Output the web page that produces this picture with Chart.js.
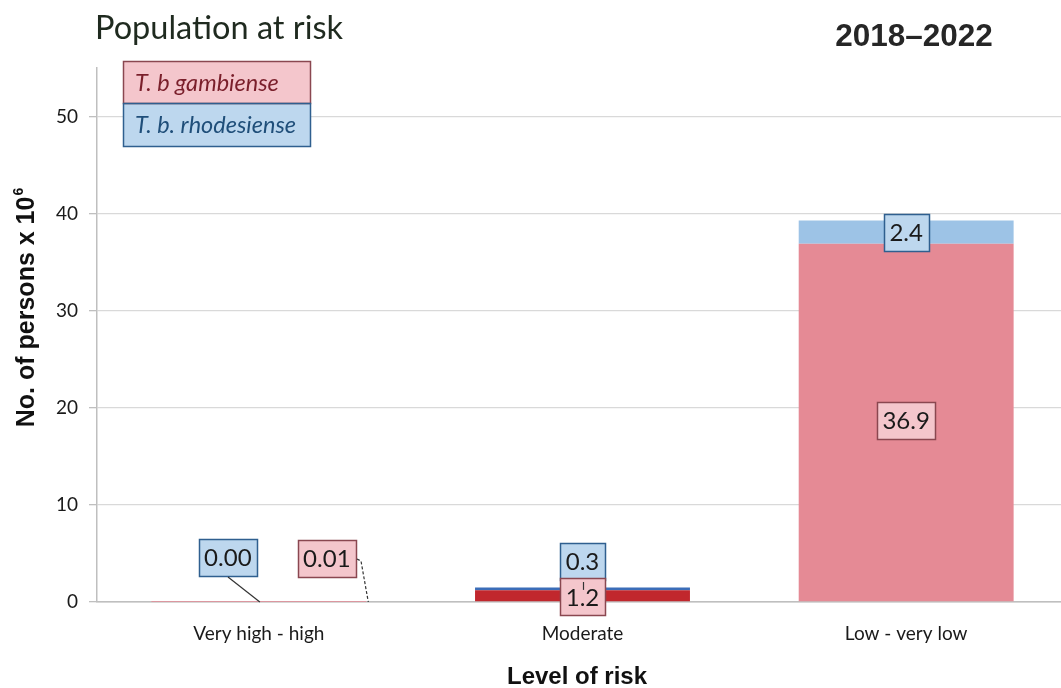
<!DOCTYPE html>
<html>
<head>
<meta charset="utf-8">
<script src="https://cdn.jsdelivr.net/npm/chart.js@4/dist/chart.umd.min.js"></script>
<style>
  html, body { margin: 0; padding: 0; background: #fff; overflow: hidden; }
  #wrap { width: 1068px; height: 688px; }
</style>
</head>
<body>
<div id="wrap"><canvas id="c" width="1068" height="688"></canvas></div>
<script>
// Population at risk of sleeping sickness, 2018–2022 (millions of persons)
const categories = ['Very high - high', 'Moderate', 'Low - very low'];
const gambiense = [0.01, 1.2, 36.9];
const rhodesiense = [0.00, 0.3, 2.4];
const yTicks = [0, 10, 20, 30, 40, 50];
const seriesNames = ['T. b gambiense', 'T. b. rhodesiense'];
const titleText = 'Population at risk';
const periodText = '2018–2022';
const yTitleText = 'No. of persons x 10';
const yTitleExp = '6';
const xTitleText = 'Level of risk';

const SANS = 'Lato, "Open Sans", sans-serif';
const ARIAL = '"Liberation Sans", Arial, sans-serif';

// per-category segment colours (moderate band drawn in saturated tones)
const gambColors = ['#e58a95', '#c1272d', '#e58a95'];
const rhodColors = ['#9dc3e6', '#3b6db8', '#9dc3e6'];

const fmt = v => (v < 0.1 ? v.toFixed(2) : v.toFixed(1));

function drawBoxLabel(ctx, text, cx, cy, fill, stroke) {
  ctx.save();
  ctx.font = '24px ' + SANS;
  const w = Math.round(ctx.measureText(text).width) + 11;
  const h = 37;
  const x = Math.round(cx - w / 2), y = Math.round(cy - h / 2);
  ctx.fillStyle = fill;
  ctx.fillRect(x, y, w, h);
  ctx.strokeStyle = stroke;
  ctx.lineWidth = 1.5;
  ctx.strokeRect(x + 0.5, y + 0.5, w, h);
  ctx.fillStyle = '#1a1a1a';
  ctx.textAlign = 'center';
  ctx.textBaseline = 'middle';
  ctx.fillText(text, cx, cy + 1);
  ctx.restore();
  return { x, y, w, h };
}

const annotate = {
  id: 'annotate',
  afterDatasetsDraw(chart) {
    const ctx = chart.ctx;
    const yScale = chart.scales.y;
    const zeroY = yScale.getPixelForValue(0);
    const gMeta = chart.getDatasetMeta(0).data;
    const rMeta = chart.getDatasetMeta(1).data;
    const BLUE_FILL = '#bdd7ee', BLUE_EDGE = '#2f5f8f';
    const PINK_FILL = '#f4c6cc', PINK_EDGE = '#8a4750';

    categories.forEach((c, i) => {
      const g = gMeta[i], r = rMeta[i];
      const gText = fmt(gambiense[i]), rText = fmt(rhodesiense[i]);
      if (i === 0) {
        // values too small to see: labels stand off the bar with leader lines
        const rb = drawBoxLabel(ctx, rText, g.x - 31, zeroY - 45, BLUE_FILL, BLUE_EDGE);
        ctx.save();
        ctx.strokeStyle = '#333';
        ctx.lineWidth = 1.2;
        ctx.beginPath();
        ctx.moveTo(rb.x + rb.w / 2, rb.y + rb.h + 1);
        ctx.lineTo(r.x + 1, zeroY);
        ctx.stroke();
        ctx.restore();

        const gb = drawBoxLabel(ctx, gText, g.x + 68, zeroY - 44, PINK_FILL, PINK_EDGE);
        ctx.save();
        ctx.strokeStyle = '#333';
        ctx.lineWidth = 1.2;
        ctx.setLineDash([3, 2]);
        ctx.beginPath();
        ctx.moveTo(gb.x + gb.w + 1, gb.y + 19);
        ctx.lineTo(gb.x + gb.w + 5, gb.y + 21);
        ctx.lineTo(g.x + g.width / 2 + 2, zeroY);
        ctx.stroke();
        ctx.restore();
      } else if (i === 1) {
        const gMid = (g.y + g.base) / 2;
        const rMid = (r.y + r.base) / 2;
        // blue label sits just above the stack, pink label centred on its band
        const rb = drawBoxLabel(ctx, rText, r.x, r.y - 26, BLUE_FILL, BLUE_EDGE);
        drawBoxLabel(ctx, gText, g.x, gMid + 1, PINK_FILL, PINK_EDGE);
        ctx.save();
        ctx.strokeStyle = '#333';
        ctx.lineWidth = 1.2;
        ctx.beginPath();
        ctx.moveTo(r.x + 1, rb.y + rb.h + 2);
        ctx.lineTo(r.x + 1, rMid + 1);
        ctx.stroke();
        ctx.restore();
      } else {
        drawBoxLabel(ctx, rText, r.x, (r.y + r.base) / 2, BLUE_FILL, BLUE_EDGE);
        drawBoxLabel(ctx, gText, g.x, (g.y + g.base) / 2 - 2, PINK_FILL, PINK_EDGE);
      }
    });
  },
  afterDraw(chart) {
    const ctx = chart.ctx;
    ctx.save();

    // titles
    ctx.fillStyle = '#1f2a1f';
    ctx.font = '32.5px ' + SANS;
    ctx.textAlign = 'left';
    ctx.textBaseline = 'alphabetic';
    ctx.fillText(titleText, 95, 39);

    ctx.fillStyle = '#262626';
    ctx.font = 'bold 31.5px ' + ARIAL;
    ctx.textAlign = 'center';
    ctx.fillText(periodText, 914, 46);

    // legend block
    const lx = 123, ly = 61, lw = 187;
    ctx.fillStyle = '#f4c6cc';
    ctx.fillRect(lx, ly, lw, 42);
    ctx.fillStyle = '#bdd7ee';
    ctx.fillRect(lx, ly + 42, lw, 43);
    ctx.lineWidth = 1.5;
    ctx.strokeStyle = '#8a4750';
    ctx.strokeRect(lx + 0.5, ly + 0.5, lw, 42);
    ctx.strokeStyle = '#2f5f8f';
    ctx.strokeRect(lx + 0.5, ly + 42.5, lw, 43);
    ctx.font = 'italic 23.5px ' + SANS;
    ctx.textAlign = 'left';
    ctx.textBaseline = 'middle';
    ctx.fillStyle = '#7a1f2b';
    ctx.fillText(seriesNames[0], lx + 12, ly + 22);
    ctx.fillStyle = '#1f4e79';
    ctx.fillText(seriesNames[1], lx + 12, ly + 64);

    // y axis title with exponent
    ctx.save();
    ctx.translate(34, 308);
    ctx.rotate(-Math.PI / 2);
    ctx.fillStyle = '#111';
    ctx.font = 'bold 25px ' + ARIAL;
    ctx.textBaseline = 'alphabetic';
    const mainW = ctx.measureText(yTitleText).width;
    ctx.font = 'bold 14px ' + ARIAL;
    const expW = ctx.measureText(yTitleExp).width;
    const startX = -(mainW + expW) / 2;
    ctx.font = 'bold 25px ' + ARIAL;
    ctx.textAlign = 'left';
    ctx.fillText(yTitleText, startX, 0);
    ctx.font = 'bold 14px ' + ARIAL;
    ctx.fillText(yTitleExp, startX + mainW + 1, -11);
    ctx.restore();

    // x axis title
    ctx.fillStyle = '#111';
    ctx.font = 'bold 24px ' + ARIAL;
    ctx.textAlign = 'center';
    ctx.textBaseline = 'alphabetic';
    ctx.fillText(xTitleText, 577, 684);
    ctx.restore();
  }
};

new Chart(document.getElementById('c'), {
  type: 'bar',
  data: {
    labels: categories,
    datasets: [
      { label: seriesNames[0], data: gambiense, backgroundColor: gambColors, borderWidth: 0 },
      { label: seriesNames[1], data: rhodesiense, backgroundColor: rhodColors, borderWidth: 0 }
    ]
  },
  options: {
    responsive: false,
    devicePixelRatio: 1,
    animation: false,
    datasets: { bar: { barPercentage: 0.664, categoryPercentage: 1 } },
    layout: { padding: { top: 68, left: 0, right: 0, bottom: 0 } },
    plugins: { legend: { display: false }, tooltip: { enabled: false }, title: { display: false } },
    scales: {
      x: {
        stacked: true,
        grid: { display: false, drawTicks: false },
        border: { display: true, color: '#bfbfbf', width: 1.5 },
        ticks: { color: '#1a1a1a', font: { family: SANS, size: 19 }, padding: 20 },
        afterFit(scale) { scale.height = 86; }
      },
      y: {
        stacked: true,
        min: 0,
        max: 55,
        afterBuildTicks(scale) { scale.ticks = yTicks.map(v => ({ value: v })); },
        ticks: { color: '#1a1a1a', font: { family: SANS, size: 19 }, padding: 11 },
        grid: {
          color: c => (c.tick && c.tick.value === 0 ? '#bfbfbf' : '#d9d9d9'),
          lineWidth: 1.3,
          tickLength: 8,
          tickColor: '#bfbfbf'
        },
        border: { display: true, color: '#bfbfbf', width: 1.5 },
        afterFit(scale) { scale.width = 97; }
      }
    }
  },
  plugins: [annotate]
});
</script>
</body>
</html>
